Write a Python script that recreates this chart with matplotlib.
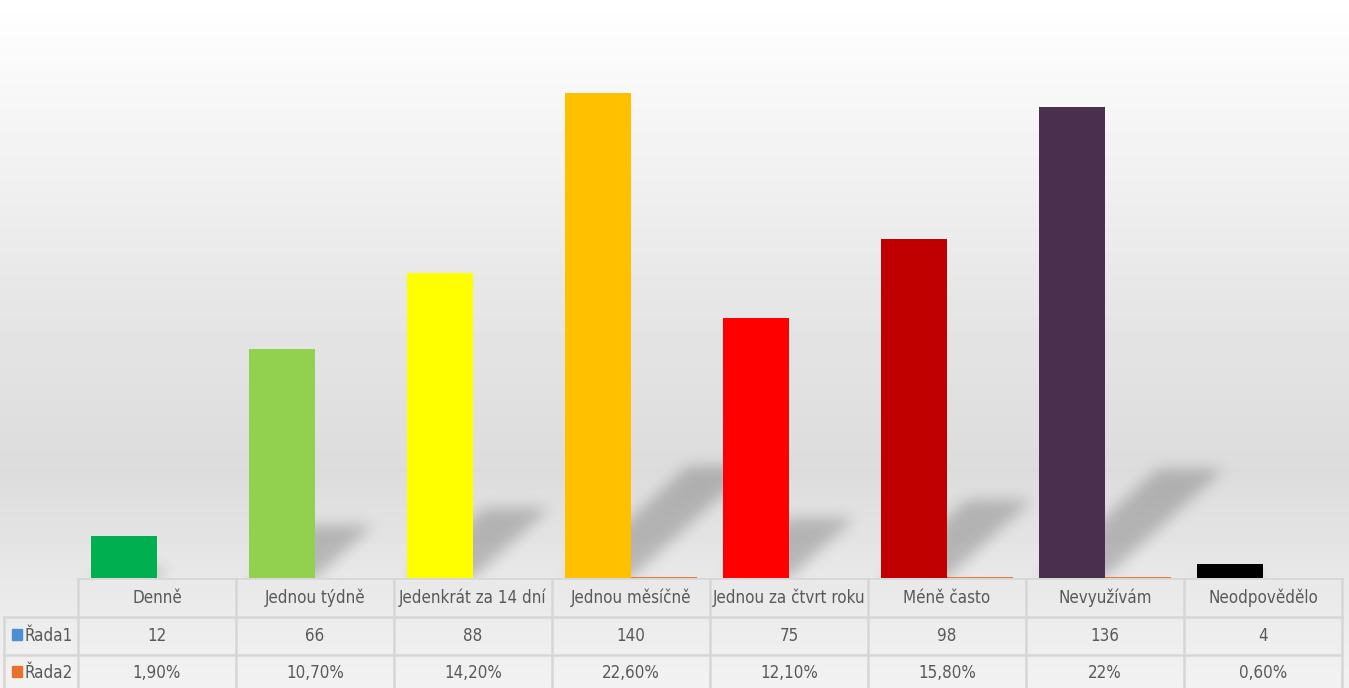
import numpy as np
import matplotlib
matplotlib.use("Agg")
import matplotlib.pyplot as plt
from matplotlib.patches import Rectangle
from matplotlib import font_manager as fm

categories = ["Denně", "Jednou týdně", "Jedenkrát za 14 dní", "Jednou měsíčně",
              "Jednou za čtvrt roku", "Méně často", "Nevyužívám", "Neodpovědělo"]
rada1 = [12, 66, 88, 140, 75, 98, 136, 4]
rada2 = [0.019, 0.107, 0.142, 0.226, 0.121, 0.158, 0.22, 0.006]
rada1_labels = ["12", "66", "88", "140", "75", "98", "136", "4"]
rada2_labels = ["1,90%", "10,70%", "14,20%", "22,60%", "12,10%", "15,80%", "22%", "0,60%"]
bar_colors = ["#00b050", "#92d050", "#ffff00", "#ffc000",
              "#ff0000", "#c00000", "#4b2f4e", "#000000"]

# look for a narrow font (the original uses Calibri)
fp = None
for key in ["LiberationSansNarrow-Regular", "DejaVuSansCondensed.ttf", "RobotoCondensed-Regular",
            "OpenSans_Condensed-Regular", "OpenSansCondensed"]:
    hits = [f for f in fm.findSystemFonts() if key.lower() in f.lower().replace(" ", "")]
    if hits:
        fp = fm.FontProperties(fname=hits[0])
        break
if fp is None:
    fp = fm.FontProperties(family="Lato")
fs = 12.2

W, H = 1349, 688
fig = plt.figure(figsize=(W / 100, H / 100), dpi=100)

# background gradient
bg = fig.add_axes([0, 0, 1, 1], zorder=-10)
ys = np.arange(H)
shade = np.interp(ys, [0, 120, 300, 470, 578, 688], [255, 245, 230, 220, 232, 242]) / 255
bg.imshow(np.repeat(shade[:, None], 2, axis=1), cmap="gray", vmin=0, vmax=1,
          aspect="auto", extent=[0, 1, 0, 1], origin="upper")
bg.axis("off")

base_px = 578
ax = fig.add_axes([78 / W, (H - base_px) / H, (1342 - 78) / W, base_px / H])
ax.patch.set_alpha(0)
px_per_unit = 485 / 140
ymax = base_px / px_per_unit
ax.set_xlim(-0.5, 7.5)
ax.set_ylim(0, ymax)
ax.axis("off")

x = np.arange(len(categories))
w = 0.4175
ax.bar(x - w / 2, rada1, width=w, color=bar_colors, zorder=3)
ax.bar(x + w / 2, rada2, width=w, color="#ed7d31", lw=0, zorder=3)

# soft diagonal shadows, rasterised on a grid in data coordinates and blurred
cat_px = (1342 - 78) / 8
nx, ny = 1264, base_px
gx = np.linspace(-0.5, 7.5, nx)
gy = np.linspace(0, ymax, ny)
XX, YY = np.meshgrid(gx, gy)
mask = np.zeros_like(XX)
for xi, v in zip(x - w / 2, rada1):
    hh = 0.23 * v
    s = 1.1 * hh * px_per_unit / cat_px
    x0 = xi - w / 2
    shift = s * YY / hh
    inside = (YY <= hh) & (XX >= x0 + shift) & (XX <= x0 + w + shift)
    mask[inside] = 1.0
sig = 7.0
k = np.arange(-24, 25)
kern = np.exp(-k ** 2 / (2 * sig ** 2))
kern /= kern.sum()
pad = np.pad(mask, ((30, 30), (30, 30)))
pad = np.apply_along_axis(lambda r: np.convolve(r, kern, mode="same"), 1, pad)
pad = np.apply_along_axis(lambda c: np.convolve(c, kern, mode="same"), 0, pad)
mask = pad[30:-30, 30:-30]
rgba = np.zeros((ny, nx, 4))
rgba[..., 3] = 0.21 * mask
ax.imshow(rgba, extent=[-0.5, 7.5, 0, ymax], origin="lower", aspect="auto", zorder=1)

# data table below the plot
tab = fig.add_axes([0, 0, 1, (H - base_px) / H])
tab.set_xlim(0, W)
tab.set_ylim(H, base_px)
tab.axis("off")
grid = "#d6d6d6"
edges = [78 + i * cat_px for i in range(9)]
rows = [578, 617, 655, 688]
tab.plot([78, 1342], [578, 578], color=grid, lw=1.8)
for yy in rows[1:3]:
    tab.plot([4, 1342], [yy, yy], color=grid, lw=1.8)
for xx in edges:
    tab.plot([xx, xx], [578, 688], color=grid, lw=1.8)
tab.plot([4, 4], [617, 688], color=grid, lw=1.8)

txt = dict(ha="center", va="center", fontproperties=fp, fontsize=fs, color="#595959")
for i, c in enumerate(categories):
    cx = (edges[i] + edges[i + 1]) / 2
    tab.text(cx, 598, c, **txt)
    tab.text(cx, 636, rada1_labels[i], **txt)
    tab.text(cx, 673, rada2_labels[i], **txt)

tab.add_patch(Rectangle((12, 629), 10, 11, color="#4a8fd3"))
tab.add_patch(Rectangle((12, 666), 10, 11, color="#e8702a"))
lbl = dict(ha="left", va="center", fontproperties=fp, fontsize=fs, color="#595959")
tab.text(24, 636, "Řada1", **lbl)
tab.text(24, 673, "Řada2", **lbl)

fig.savefig("out.png", dpi=100)
